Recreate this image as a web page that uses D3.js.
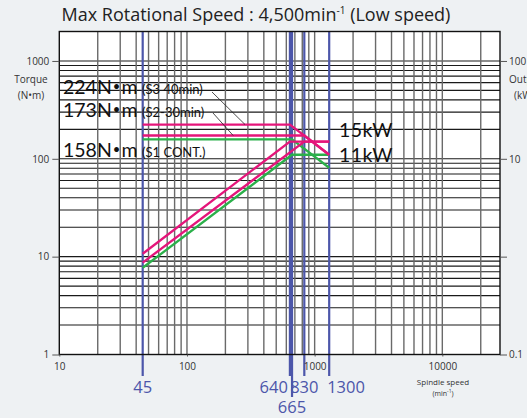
<!DOCTYPE html>
<html>
<head>
<meta charset="utf-8">
<script src="https://cdn.jsdelivr.net/npm/d3@7"></script>
<style>
  body { margin: 0; background: #eef1f3; }
  svg { display: block; font-family: "Open Sans", "Noto Sans", sans-serif; }
</style>
</head>
<body>
<div id="container"></div>
<script>
// speeds (min-1) marked with blue lines
const speedMarks = [45, 640, 665, 830, 1300]

// torque curves [speed, N·m]
const torqueS3 = [[45, 224], [640, 224], [1300, 110]]
const torqueS2 = [[45, 173], [830, 173], [1300, 110]]
const torqueS1 = [[45, 158], [665, 158], [1300, 81]]

// output curves [speed, kW]
const powerS3 = [[45, 1.07], [640, 15], [1300, 15]]
const powerS2 = [[45, 0.87], [830, 15], [1300, 15]]
const powerS1 = [[45, 0.77], [665, 11], [1300, 11]]

// tick labels
const xTicks = [10, 100, 1000, 10000]
const torqueTicks = [1, 10, 100, 1000]
const powerTicks = [0.1, 1, 10, 100]
const powerTickLabels = ["0.1", "", "10", "100"]

function drawChart() {
    let width = 527
    let height = 418
    let pink = "#e5157a"
    let green = "#2bb04a"
    let blue = "#4c56aa"

    let svg = d3.select("#container")
        .append("svg")
        .attr("width", width)
        .attr("height", height)

    let x = d3.scaleLog().domain([10, 28300]).range([59.3, 500])
    let y = d3.scaleLog().domain([1, 2000]).range([354.5, 31.5])
    let yP = d3.scaleLog().domain([0.1, 200]).range([354.5, 31.5])

    // plot background
    svg.append("rect")
        .attr("x", x.range()[0]).attr("y", y.range()[1])
        .attr("width", x.range()[1] - x.range()[0])
        .attr("height", y.range()[0] - y.range()[1])
        .attr("fill", "#fff")

    // grid
    let xGrid = []
    for (let e = 1; e <= 4; e++)
        for (let m = 1; m <= 9; m++) {
            let v = m * Math.pow(10, e)
            if (v > 10 && v < x.domain()[1]) xGrid.push(v)
        }
    let yGrid = []
    for (let e = 0; e <= 3; e++)
        for (let m = 1; m <= 9; m++) {
            let v = m * Math.pow(10, e)
            if (v > 1 && v < 2000) yGrid.push(v)
        }

    svg.append("g")
        .attr("stroke", "#1a1a1a")
        .attr("stroke-width", 1.1)
        .selectAll("line")
        .data(yGrid)
        .join("line")
            .attr("x1", x.range()[0]).attr("x2", x.range()[1])
            .attr("y1", d => y(d)).attr("y2", d => y(d))

    svg.append("g")
        .attr("stroke", "#6a6a6a")
        .attr("stroke-width", 1.4)
        .selectAll("line")
        .data(xGrid)
        .join("line")
            .attr("x1", d => x(d)).attr("x2", d => x(d))
            .attr("y1", y.range()[1]).attr("y2", y.range()[0])

    // blue speed lines
    svg.append("g")
        .attr("stroke", blue)
        .attr("stroke-width", 2.2)
        .selectAll("line")
        .data(speedMarks)
        .join("line")
            .attr("x1", d => x(d)).attr("x2", d => x(d))
            .attr("y1", y.range()[1])
            .attr("y2", d => d == 665 ? 397 : 376)

    // frame
    svg.append("rect")
        .attr("x", x.range()[0]).attr("y", y.range()[1])
        .attr("width", x.range()[1] - x.range()[0])
        .attr("height", y.range()[0] - y.range()[1])
        .attr("fill", "none")
        .attr("stroke", "#111")
        .attr("stroke-width", 1.4)

    // curves
    let line = d3.line().x(d => x(d[0])).y(d => y(d[1]))
    let pline = d3.line().x(d => x(d[0])).y(d => yP(d[1]))

    let curves = [
        {d: torqueS1, l: line, c: green},
        {d: powerS1, l: pline, c: green},
        {d: torqueS2, l: line, c: pink},
        {d: powerS2, l: pline, c: pink},
        {d: torqueS3, l: line, c: pink},
        {d: powerS3, l: pline, c: pink}
    ]
    svg.append("g")
        .attr("fill", "none")
        .attr("stroke-width", 2.3)
        .selectAll("path")
        .data(curves)
        .join("path")
            .attr("stroke", d => d.c)
            .attr("d", d => d.l(d.d))

    // axes
    let axisStyle = g => {
        g.select(".domain").remove()
        g.selectAll(".tick line").attr("stroke", "#555")
        g.selectAll(".tick text").attr("fill", "#333").attr("font-size", 10)
            .attr("font-family", "Open Sans, sans-serif")
    }

    svg.append("g")
        .attr("transform", `translate(${x.range()[0]},0)`)
        .call(d3.axisLeft(y).tickValues(torqueTicks).tickFormat(d3.format("d")).tickSize(7).tickPadding(3))
        .call(axisStyle)

    svg.append("g")
        .attr("transform", `translate(${x.range()[1]},0)`)
        .call(d3.axisRight(yP).tickValues(powerTicks)
            .tickFormat((d, i) => powerTickLabels[i]).tickSize(7).tickPadding(2))
        .call(axisStyle)

    svg.append("g")
        .attr("transform", `translate(0,${y.range()[0]})`)
        .call(d3.axisBottom(x).tickValues(xTicks).tickFormat(d3.format("d")).tickSize(2).tickPadding(6))
        .call(axisStyle)

    // axis titles (the right ones run off the page, as in the original)
    svg.append("text").attr("x", 31).attr("y", 83).attr("text-anchor", "middle")
        .attr("font-size", 10).attr("fill", "#333").text("Torque")
    svg.append("text").attr("x", 31).attr("y", 99).attr("text-anchor", "middle")
        .attr("font-size", 10).attr("fill", "#333").text("(N•m)")
    svg.append("text").attr("x", 509).attr("y", 83)
        .attr("font-size", 10).attr("fill", "#333").text("Output")
    svg.append("text").attr("x", 514).attr("y", 99)
        .attr("font-size", 10).attr("fill", "#333").text("(kW)")

    svg.append("text").attr("x", 443).attr("y", 385).attr("text-anchor", "middle")
        .attr("font-size", 8).attr("fill", "#333").text("Spindle speed")
    let sp = svg.append("text").attr("x", 443).attr("y", 396).attr("text-anchor", "middle")
        .attr("font-size", 7).attr("fill", "#333")
    sp.append("tspan").text("(min")
    sp.append("tspan").attr("font-size", 5).attr("dy", -3).text("-1")
    sp.append("tspan").attr("dy", 3).text(")")

    // title
    let t = svg.append("text").attr("x", 256).attr("y", 21).attr("text-anchor", "middle")
        .attr("font-size", 18).attr("fill", "#222")
    t.append("tspan").text("Max Rotational Speed : 4,500min")
    t.append("tspan").attr("font-size", 10).attr("dy", -7).text("-1")
    t.append("tspan").attr("dy", 7).text(" (Low speed)")

    // blue speed labels
    let speedLabels = [
        {v: 45, a: "middle", y: 393},
        {v: 640, a: "end", y: 393, dx: -2},
        {v: 830, a: "middle", y: 393},
        {v: 1300, a: "start", y: 393, dx: -2},
        {v: 665, a: "middle", y: 413}
    ]
    svg.append("g")
        .attr("fill", blue)
        .attr("font-size", 16.5)
        .selectAll("text")
        .data(speedLabels)
        .join("text")
            .attr("x", d => x(d.v) + (d.dx || 0))
            .attr("y", d => d.y)
            .attr("text-anchor", d => d.a)
            .text(d => d.v)

    // torque labels
    let torqueLabels = [
        {num: "224", small: "(S3 40min)", y: 94},
        {num: "173", small: "(S2-30min)", y: 117},
        {num: "158", small: "(S1 CONT.)", y: 157}
    ]
    let tl = svg.append("g").attr("fill", "#111")
        .attr("font-family", "Lato, sans-serif")
        .selectAll("text")
        .data(torqueLabels)
        .join("text")
            .attr("x", 63)
            .attr("y", d => d.y)
    tl.append("tspan").attr("font-size", 19.5).text(d => d.num + "N")
    tl.append("tspan").attr("font-size", 13).attr("dx", 1).attr("dy", -3).text("•")
    tl.append("tspan").attr("font-size", 19.5).attr("dx", 1).attr("dy", 3).text("m")
    tl.append("tspan").attr("x", 142).attr("font-size", 13).text(d => d.small)

    // leader lines
    svg.append("line").attr("x1", 212).attr("y1", 92)
        .attr("x2", x(285)).attr("y2", y(224))
        .attr("stroke", "#222").attr("stroke-width", 0.8)
    svg.append("line").attr("x1", 213).attr("y1", 113)
        .attr("x2", x(230)).attr("y2", y(173))
        .attr("stroke", "#222").attr("stroke-width", 0.8)

    // output labels
    svg.append("text").attr("x", 339).attr("y", 137)
        .attr("font-size", 19.5).attr("font-family", "Lato, sans-serif")
        .attr("fill", "#111").attr("letter-spacing", 0.4).text("15kW")
    svg.append("text").attr("x", 339).attr("y", 162)
        .attr("font-size", 19.5).attr("font-family", "Lato, sans-serif")
        .attr("fill", "#111").attr("letter-spacing", 0.4).text("11kW")

    return svg.node()
}

drawChart()
</script>
</body>
</html>
